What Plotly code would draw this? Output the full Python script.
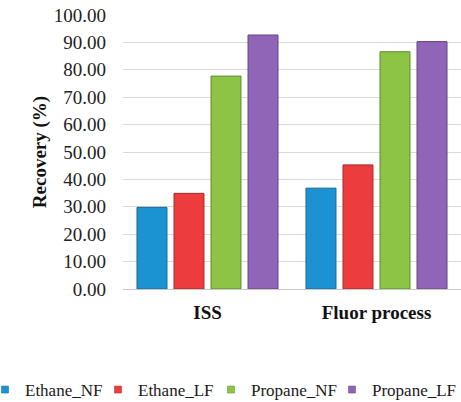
import plotly.graph_objects as go

categories = ["ISS", "Fluor process"]
series_names = ["Ethane_NF", "Ethane_LF", "Propane_NF", "Propane_LF"]
ethane_nf = [29.8, 36.8]
ethane_lf = [34.9, 45.3]
propane_nf = [77.7, 86.6]
propane_lf = [92.7, 90.3]
tick_vals = [0, 10, 20, 30, 40, 50, 60, 70, 80, 90, 100]

colors = ["#1B93D3", "#EC3C3D", "#8DC446", "#9064B6"]
edge_colors = ["#15679A", "#A82A2B", "#5F8A2E", "#644484"]

serif = "Liberation Serif"
W, H = 461, 402
legend_x_px = [0, 113, 226, 347]
legend_ids = ["legend", "legend2", "legend3", "legend4"]

fig = go.Figure()
for name, vals, c, ec in zip(series_names, [ethane_nf, ethane_lf, propane_nf, propane_lf], colors, edge_colors):
    fig.add_trace(go.Bar(
        x=categories, y=vals, name=name, legendgroup=name, showlegend=False,
        marker=dict(color=c, line=dict(color=ec, width=1)),
    ))
# legend keys (small squares like the original)
for name, c, ec, lid in zip(series_names, colors, edge_colors, legend_ids):
    fig.add_trace(go.Scatter(
        x=[None], y=[None], mode="markers", name=name, legendgroup=name, legend=lid,
        marker=dict(symbol="square", size=7, color=c, line=dict(color=ec, width=0.5)),
        hoverinfo="skip",
    ))

legends = {}
for lid, lx in zip(legend_ids, legend_x_px):
    legends[lid] = dict(
        orientation="h",
        x=lx / W, xref="container", xanchor="left",
        y=1 - 390 / H, yref="container", yanchor="middle",
        font=dict(family=serif, size=17, color="#1a1a1a"),
        itemwidth=30,
        indentation=-15,
        bgcolor="rgba(0,0,0,0)",
        borderwidth=0,
    )

fig.update_layout(
    width=W, height=H,
    margin=dict(l=123, r=0, t=15, b=113, autoexpand=False),
    barmode="group",
    bargap=0.124,
    bargroupgap=0.19,
    plot_bgcolor="white",
    paper_bgcolor="white",
    font=dict(family=serif, color="#1a1a1a"),
    showlegend=True,
    xaxis=dict(
        tickfont=dict(family=serif, size=19, color="#111111", weight="bold"),
        showline=True, linecolor="#c8c8c8", linewidth=1,
        ticks="", ticklen=0,
        ticklabelstandoff=6,
    ),
    yaxis=dict(
        range=[0, 100],
        tickvals=tick_vals,
        tickformat=".2f",
        tickfont=dict(family=serif, size=19, color="#222222"),
        showgrid=True, gridcolor="#dadada", gridwidth=1,
        zeroline=False,
        showline=False,
        ticks="",
        ticklabelstandoff=16,
        title=dict(text="Recovery (%)", font=dict(family=serif, size=19, color="#111111", weight="bold"), standoff=2),
    ),
    **legends,
)

fig.write_html("out.html")
